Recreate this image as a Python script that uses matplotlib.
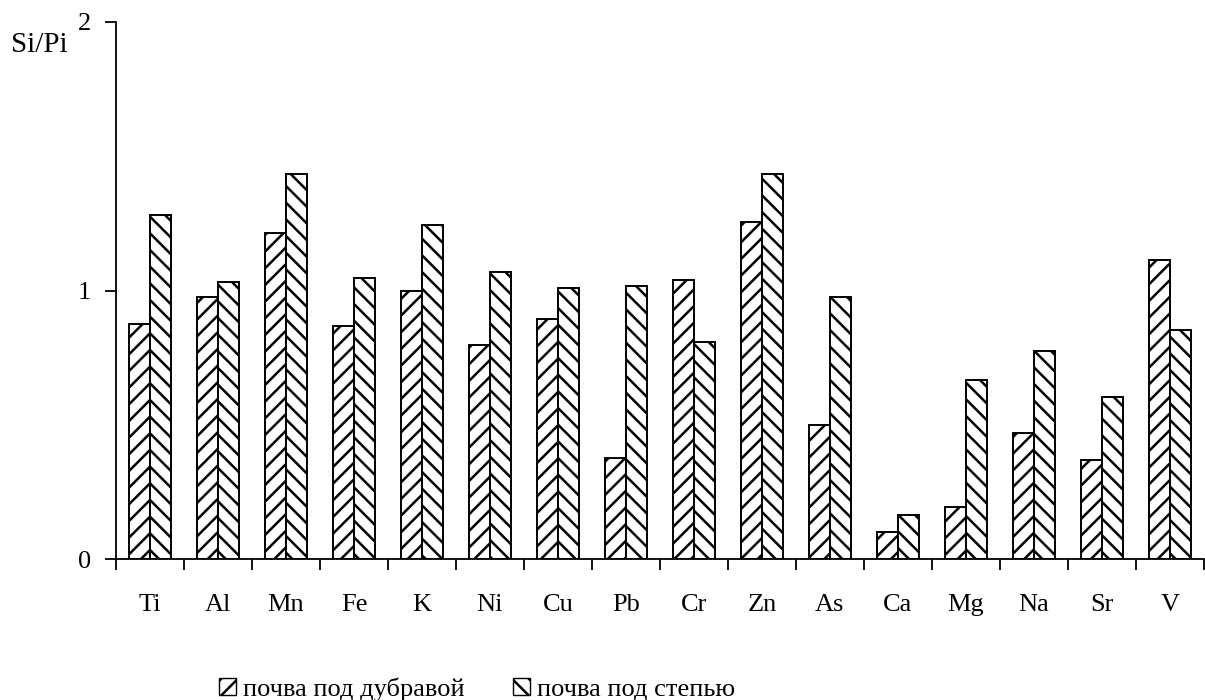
import matplotlib.pyplot as plt
from matplotlib.patches import Patch
import numpy as np

plt.rcParams['font.family'] = ['Liberation Serif', 'DejaVu Serif']
plt.rcParams['hatch.linewidth'] = 1.8

elements = ['Ti', 'Al', 'Mn', 'Fe', 'K', 'Ni', 'Cu', 'Pb', 'Cr', 'Zn',
            'As', 'Ca', 'Mg', 'Na', 'Sr', 'V']
oak = [0.875, 0.976, 1.214, 0.868, 1.0, 0.797, 0.894, 0.376, 1.04, 1.255,
       0.50, 0.10, 0.194, 0.469, 0.369, 1.114]
steppe = [1.28, 1.03, 1.434, 1.047, 1.244, 1.069, 1.009, 1.017, 0.81, 1.434,
          0.976, 0.164, 0.667, 0.775, 0.603, 0.853]

fig = plt.figure(figsize=(12.05, 7), dpi=100)
ax = fig.add_axes([0.0963, 0.2014, 0.9027, 0.7672])

x = np.arange(len(elements))
w = 0.31
ax.bar(x - w / 2, oak, w, color='white', edgecolor='black', hatch='//', linewidth=1.4)
ax.bar(x + w / 2, steppe, w, color='white', edgecolor='black', hatch='\\\\', linewidth=1.4)

ax.set_xlim(-0.5, len(elements) - 0.5)
ax.set_ylim(0, 2)
ax.set_yticks([0, 1, 2])
ax.tick_params(axis='y', direction='out', length=8, width=1.3, labelsize=19, pad=10)

ax.set_xticks(x)
ax.set_xticklabels(elements, fontsize=19)
ax.tick_params(axis='x', which='major', length=0, pad=25)
ax.set_xticks(np.arange(-0.5, len(elements), 1), minor=True)
ax.tick_params(axis='x', which='minor', direction='out', length=8, width=1.3)

for s in ['top', 'right']:
    ax.spines[s].set_visible(False)
ax.spines['left'].set_linewidth(1.3)
ax.spines['bottom'].set_linewidth(1.3)

fig.text(0.009, 0.925, 'Si/Pi', fontsize=21)

handles = [Patch(facecolor='white', edgecolor='black', hatch='//'),
           Patch(facecolor='white', edgecolor='black', hatch='\\\\')]
fig.legend(handles, ['почва под дубравой', 'почва под степью'],
           loc='lower left', bbox_to_anchor=(0.162, -0.035), ncol=2, frameon=False,
           fontsize=19, handlelength=0.65, handleheight=0.65, handletextpad=0.25,
           columnspacing=1.85)

plt.savefig('out.png', dpi=100)
